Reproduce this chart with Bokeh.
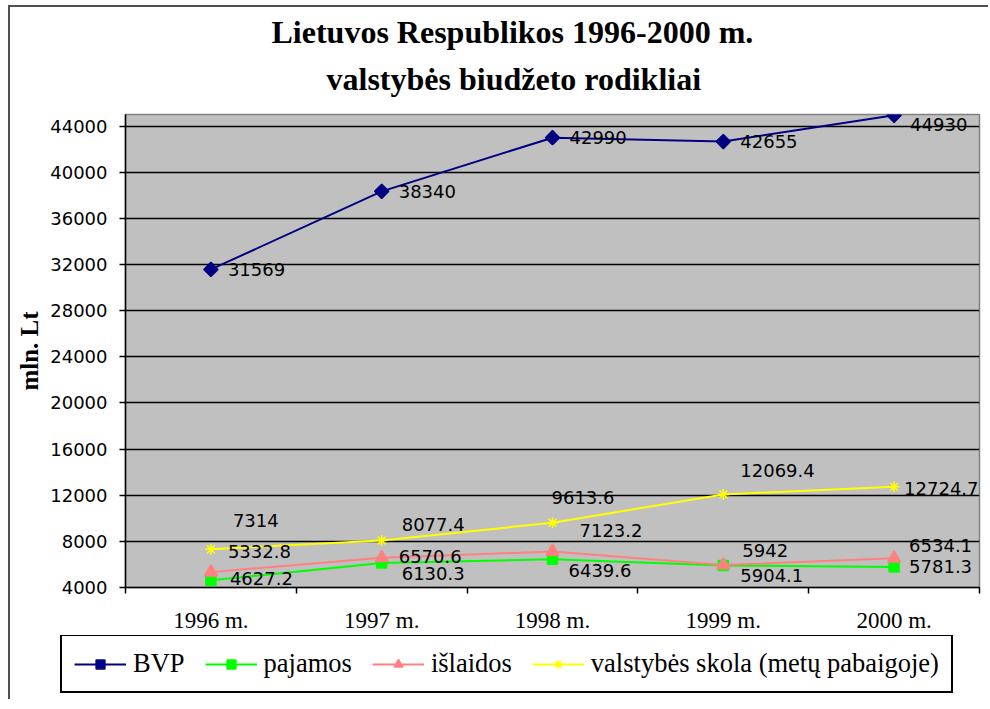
from bokeh.plotting import figure
from bokeh.layouts import column
from bokeh.models import (ColumnDataSource, FixedTicker, LabelSet, Legend, LegendItem,
                          Title, BasicTickFormatter)
from bokeh.core.properties import value
from bokeh.embed import file_html
from bokeh.resources import INLINE
import numpy as np

# ---------------- data ----------------
years = ["1996 m.", "1997 m.", "1998 m.", "1999 m.", "2000 m."]
bvp = [31569, 38340, 42990, 42655, 44930]
pajamos = [4627.2, 6130.3, 6439.6, 5904.1, 5781.3]
islaidos = [5332.8, 6570.6, 7123.2, 5942, 6534.1]
skola = [7314, 8077.4, 9613.6, 12069.4, 12724.7]
y_ticks = [4000, 8000, 12000, 16000, 20000, 24000, 28000, 32000, 36000, 40000, 44000]

# label placement (pixels: right, up) for each point's value label
bvp_off = [(17, 0), (17, 0), (17, 0), (17, 0), (16, -9)]
paj_off = [(19, 2), (20, -11), (16, -11), (17, -10), (15, 0)]
isl_off = [(17, 21), (17, 1), (27, 21), (19, 15), (15, 13)]
sko_off = [(22, 29), (20, 16), (-1, 25), (17, 24), (10, -2)]

SERIF = "Liberation Serif"
SANS = "DejaVu Sans"

xs = [i + 0.5 for i in range(len(years))]

W = 978
H1 = 628
p = figure(width=W, height=H1, x_range=(0, len(years)), y_range=(4000, 45000),
           output_backend="svg", toolbar_location=None,
           min_border_left=115, min_border_right=W - 969, min_border_top=107,
           min_border_bottom=45, background_fill_color="#C0C0C0",
           border_fill_color="white")

p.title.text = "Lietuvos Respublikos 1996-2000 m."
p.title.text_font = SERIF
p.title.text_font_size = "32px"
p.title.text_font_style = "bold"
p.title.text_color = "black"
p.title.align = "left"
p.title.offset = 146
p.title.standoff = -19
t2 = Title(text="valstybės biudžeto rodikliai", text_font=SERIF, text_font_size="32px",
           text_font_style="bold", text_color="black", align="left", offset=201, standoff=36)
p.add_layout(t2, "above")

p.outline_line_color = "#808080"
p.outline_line_width = 1.5

# grid
p.xgrid.visible = False
p.ygrid.ticker = FixedTicker(ticks=y_ticks)
p.ygrid.grid_line_color = "black"
p.ygrid.grid_line_width = 1.6

# y axis
p.yaxis.ticker = FixedTicker(ticks=y_ticks)
p.yaxis.formatter = BasicTickFormatter(use_scientific=False)
p.yaxis.major_label_text_font = SANS
p.yaxis.major_label_text_font_size = "18px"
p.yaxis.major_label_text_color = "black"
p.yaxis.major_tick_out = 6
p.yaxis.major_tick_in = 0
p.yaxis.minor_tick_line_color = None
p.yaxis.axis_line_color = "black"
p.yaxis.axis_line_width = 1.5
p.yaxis.major_tick_line_width = 1.5
p.yaxis.major_label_standoff = 12
p.yaxis.axis_label = "mln. Lt"
p.yaxis.axis_label_text_font = SERIF
p.yaxis.axis_label_text_font_size = "25px"
p.yaxis.axis_label_text_font_style = "bold"
p.yaxis.axis_label_text_color = "black"
p.yaxis.axis_label_standoff = 4

# x axis: labels at category centres, tick marks at category boundaries
p.xaxis.ticker = FixedTicker(ticks=xs, minor_ticks=list(range(len(years) + 1)))
p.xaxis.major_label_overrides = {x: y for x, y in zip(xs, years)}
p.xaxis.major_tick_line_color = None
p.xaxis.minor_tick_line_color = "black"
p.xaxis.minor_tick_line_width = 1.5
p.xaxis.minor_tick_out = 6
p.xaxis.minor_tick_in = 0
p.xaxis.axis_line_color = "black"
p.xaxis.axis_line_width = 1.5
p.xaxis.major_label_text_font = SERIF
p.xaxis.major_label_text_font_size = "23px"
p.xaxis.major_label_text_color = "black"
p.xaxis.major_label_standoff = 14

series = [
    ("BVP", bvp, "#000080", "square", 10, np.pi / 4, bvp_off),
    ("pajamos", pajamos, "#00FF00", "square", 10, 0, paj_off),
    ("išlaidos", islaidos, "#FF8080", "triangle", 13, 0, isl_off),
    ("valstybės skola (metų pabaigoje)", skola, "#FFFF00", "asterisk", 11, 0, sko_off),
]

# legend lives in a strip below the chart (same styles as the series)
H2 = 64
pl = figure(width=W, height=H2, x_range=(0, 1), y_range=(0, 1),
            output_backend="svg", toolbar_location=None,
            x_axis_location=None, y_axis_location=None,
            min_border_left=0, min_border_right=0, min_border_top=0, min_border_bottom=0,
            outline_line_color=None,
            background_fill_color="white", border_fill_color="white")
pl.grid.visible = False
if "frame_align" in p.properties():
    p.frame_align = False
    pl.frame_align = False

items = []
for name, vals, color, marker, size, angle, offs in series:
    src = ColumnDataSource(dict(
        x=xs, y=vals,
        label=[f"{v:g}" for v in vals],
        dx=[o[0] for o in offs],
        dy=[o[1] for o in offs],
    ))
    p.line("x", "y", source=src, line_color=color, line_width=2)
    p.scatter("x", "y", source=src, marker=marker, size=size, angle=angle,
              fill_color=color, line_color=color, line_width=1.5)
    labels = LabelSet(x="x", y="y", text="label", source=src, x_offset="dx", y_offset="dy",
                      text_font=value(SANS), text_font_size="18px", text_color="black",
                      text_align="left", text_baseline="middle")
    p.add_layout(labels)
    # legend sample glyphs (NaN data: nothing drawn, only shown in the legend)
    nan_src = ColumnDataSource(dict(x=[float("nan")], y=[float("nan")]))
    l1 = pl.line("x", "y", source=nan_src, line_color=color, line_width=2)
    l2 = pl.scatter("x", "y", source=nan_src, marker=marker, size=size, angle=angle,
                    fill_color=color, line_color=color, line_width=1.5)
    items.append(LegendItem(label=name, renderers=[l1, l2]))

legend = Legend(items=items, orientation="horizontal", location=(50, 6))
legend.label_text_font = SERIF
legend.label_text_font_size = "26.5px"
legend.label_text_color = "black"
legend.glyph_width = 52
legend.glyph_height = 22
legend.label_standoff = 7
legend.spacing = 20
legend.padding = 12
legend.margin = 0
legend.border_line_color = "black"
legend.border_line_width = 2
legend.border_line_alpha = 1
legend.background_fill_color = "white"
legend.background_fill_alpha = 1
pl.add_layout(legend, "center")

layout = column(p, pl, spacing=0,
                styles={"margin-left": "8px", "margin-top": "5px",
                        "border-left": "2px solid #505050",
                        "border-top": "2px solid #505050"})

open("out.html", "w").write(file_html(layout, INLINE))
